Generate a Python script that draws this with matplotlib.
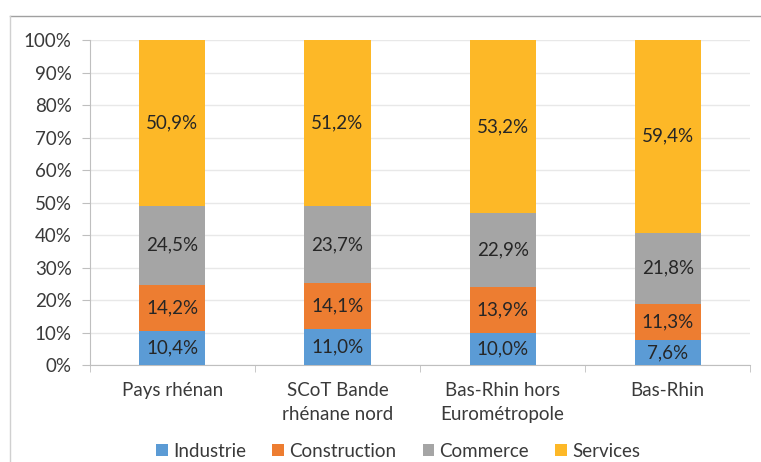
import numpy as np
import matplotlib.pyplot as plt
from matplotlib.lines import Line2D

# data
categories = ["Pays rhénan", "SCoT Bande\nrhénane nord", "Bas-Rhin hors\nEurométropole", "Bas-Rhin"]
industrie = [10.4, 11.0, 10.0, 7.6]
construction = [14.2, 14.1, 13.9, 11.3]
commerce = [24.5, 23.7, 22.9, 21.8]
services = [50.9, 51.2, 53.2, 59.4]
series_names = ["Industrie", "Construction", "Commerce", "Services"]
colors = ["#5B9BD5", "#ED7D31", "#A5A5A5", "#FDB827"]

plt.rcParams['font.family'] = ['Lato', 'DejaVu Sans']
text_color = "#3A3A3A"
fs = 13.5

fig = plt.figure(figsize=(7.61, 4.62), dpi=100)
ax = fig.add_axes([0.118, 0.21, 0.868, 0.703])

x = np.arange(len(categories))
bottom = np.zeros(len(categories))
for name, vals, col in zip(series_names, [industrie, construction, commerce, services], colors):
    vals = np.array(vals)
    ax.bar(x, vals, 0.4, bottom=bottom, color=col, label=name, zorder=3)
    for xi, b, v in zip(x, bottom, vals):
        ax.text(xi, b + v / 2, f"{v:.1f}%".replace(".", ","), ha="center", va="center",
                fontsize=fs, color="#262626", zorder=4)
    bottom += vals

ax.set_xlim(-0.5, 3.5)
ax.set_ylim(0, 100)
ax.set_yticks(np.arange(0, 101, 10))
ax.set_yticklabels([f"{v}%" for v in range(0, 101, 10)], fontsize=fs, color=text_color)
ax.set_xticks(x)
ax.set_xticklabels(categories, fontsize=fs, color=text_color, linespacing=1.5)
ax.set_xticks(np.arange(-0.5, 3.6, 1), minor=True)
ax.tick_params(axis="x", which="major", length=0, pad=12)
ax.tick_params(axis="x", which="minor", length=5, color="#BFBFBF", direction="out")
ax.tick_params(axis="y", length=6, color="#BFBFBF", pad=7)

ax.grid(axis="y", color="#E8E8E8", linewidth=1, zorder=0)
for s in ["top", "right"]:
    ax.spines[s].set_visible(False)
ax.spines["left"].set_color("#BFBFBF")
ax.spines["bottom"].set_color("#BFBFBF")

ax.legend(loc="center", bbox_to_anchor=(0.467, -0.265), ncol=4, frameon=False,
          fontsize=fs, handlelength=0.6, handleheight=0.6, handletextpad=0.3,
          columnspacing=1.4, labelcolor=text_color)

# outer chart frame (top and left edges visible)
fig.add_artist(Line2D([10 / 761, 1], [1 - 16 / 462, 1 - 16 / 462], color="#A0A0A0", lw=1))
fig.add_artist(Line2D([10 / 761, 10 / 761], [0, 1 - 16 / 462], color="#D0D0D0", lw=1))

fig.savefig("out.png", dpi=100)
